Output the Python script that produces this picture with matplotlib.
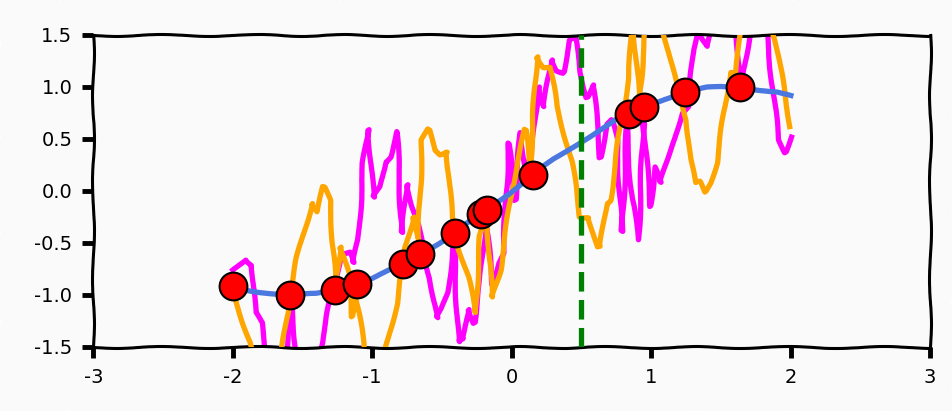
import matplotlib
matplotlib.use("Agg")
import matplotlib.pyplot as plt

# smooth curve
curve_x = [-2.0, -1.9, -1.8, -1.7, -1.6, -1.5, -1.4, -1.3, -1.2, -1.1, -1.0,
           -0.9, -0.8, -0.7, -0.6, -0.5, -0.4, -0.3, -0.2, -0.1, 0.0,
           0.1, 0.2, 0.3, 0.4, 0.5, 0.6, 0.7, 0.8, 0.9, 1.0,
           1.1, 1.2, 1.3, 1.4, 1.5, 1.6, 1.7, 1.8, 1.9, 2.0]
curve_y = [-0.91, -0.95, -0.97, -0.99, -1.0, -1.0, -0.99, -0.96, -0.93, -0.89, -0.84,
           -0.78, -0.72, -0.64, -0.56, -0.48, -0.39, -0.30, -0.20, -0.10, 0.0,
           0.10, 0.20, 0.30, 0.39, 0.48, 0.56, 0.64, 0.72, 0.78, 0.84,
           0.89, 0.93, 0.96, 0.99, 1.0, 1.0, 0.99, 0.97, 0.95, 0.91]

# sample points sitting on the curve
pts_x = [-2.0, -1.59, -1.27, -1.11, -0.78, -0.66, -0.41, -0.22, -0.18, 0.15,
         0.84, 0.95, 1.24, 1.64]
pts_y = [-0.91, -1.0, -0.95, -0.90, -0.70, -0.61, -0.40, -0.22, -0.18, 0.15,
         0.74, 0.81, 0.95, 1.0]

# noisy series 1 (magenta)
mag_x = [-2.0, -1.91, -1.862, -1.839, -1.791, -1.753, -1.695, -1.638, -1.581, -1.538,
         -1.48, -1.416, -1.361, -1.301, -1.229, -1.194, -1.158, -1.136, -1.1, -1.065,
         -1.027, -0.991, -0.943, -0.907, -0.871, -0.823, -0.787, -0.749, -0.713, -0.67,
         -0.62, -0.584, -0.536, -0.498, -0.455, -0.417, -0.381, -0.346, -0.31, -0.269,
         -0.226, -0.183, -0.14, -0.097, -0.059, -0.023, 0.025, 0.061, 0.104, 0.147,
         0.192, 0.228, 0.288, 0.324, 0.369, 0.419, 0.455, 0.491, 0.539, 0.586,
         0.634, 0.685, 0.718, 0.754, 0.79, 0.826, 0.862, 0.909, 0.945, 0.993,
         1.029, 1.065, 1.122, 1.172, 1.22, 1.267, 1.303, 1.33, 1.373, 1.401,
         1.437, 1.495, 1.552, 1.614, 1.638, 1.674, 1.724, 1.781, 1.829, 1.913,
         1.961, 2.0]
mag_y = [-0.76, -0.66, -0.71, -1.17, -1.27, -1.62, -2.01, -1.82, -1.08, -1.62,
         -1.91, -1.72, -1.46, -1.05, -0.64, -0.60, -0.59, -0.69, -0.47, 0.27,
         0.59, -0.06, 0.04, 0.28, 0.33, 0.57, -0.40, 0.06, -0.14, -0.33,
         -0.69, -0.84, -1.22, -1.13, -0.98, -0.42, -1.45, -1.43, -1.14, -1.27,
         -0.86, -0.28, -0.90, -0.69, -0.60, 0.46, -0.09, 0.56, 0.20, 0.39,
         1.0, 0.81, 1.26, 1.16, 1.14, 1.45, 1.47, 1.14, 0.90, 1.02,
         0.32, 0.64, 0.68, 0.49, -0.39, 0.59, -0.06, -0.47, 0.65, -0.15,
         0.23, 0.08, 0.30, 0.54, 0.75, 0.81, 1.36, 1.55, 1.45, 1.39,
         1.55, 1.69, 1.64, 1.52, 0.97, 1.26, 1.64, 1.69, 1.52, 0.49,
         0.37, 0.52]

# noisy series 2 (orange)
org_x = [-1.98, -1.875, -1.832, -1.774, -1.717, -1.667, -1.638, -1.576, -1.538, -1.487,
         -1.432, -1.396, -1.349, -1.301, -1.277, -1.265, -1.229, -1.201, -1.17, -1.146,
         -1.122, -1.062, -1.014, -0.957, -0.895, -0.823, -0.763, -0.704, -0.668, -0.644,
         -0.596, -0.548, -0.513, -0.465, -0.429, -0.381, -0.31, -0.262, -0.226, -0.178,
         -0.142, -0.082, -0.047, 0.001, 0.037, 0.097, 0.133, 0.181, 0.228, 0.276,
         0.324, 0.384, 0.432, 0.491, 0.551, 0.611, 0.634, 0.682, 0.706, 0.742,
         0.778, 0.837, 0.871, 0.914, 0.964, 1.029, 1.086, 1.136, 1.184, 1.256,
         1.28, 1.315, 1.351, 1.387, 1.423, 1.471, 1.518, 1.566, 1.602, 1.65,
         1.695, 1.746, 1.796, 1.853, 1.889, 2.0]
org_y = [-1.05, -1.46, -1.82, -2.2, -2.01, -1.72, -1.46, -0.89, -0.64, -0.38,
         -0.12, -0.20, 0.04, -0.09, -0.60, -0.90, -0.54, -0.64, -0.79, -1.21,
         -0.98, -1.46, -1.91, -1.82, -1.46, -1.08, -0.54, -0.25, -0.47, 0.49,
         0.59, 0.39, 0.35, 0.38, -0.25, -0.54, -0.83, -1.17, -0.44, -0.21,
         -1.02, -0.76, -0.44, 0.01, 0.27, 0.59, 0.27, 1.29, 1.19, 1.19,
         0.81, 0.52, 0.27, -0.25, -0.25, -0.54, -0.54, -0.12, -0.09, 0.23,
         0.62, 1.07, 1.64, 0.88, 1.64, 1.84, 1.55, 1.26, 1.0, 0.68,
         0.30, 0.08, 0.09, -0.01, 0.08, 0.27, 0.71, 1.14, 1.14, 1.55,
         1.84, 2.03, 1.84, 1.64, 1.45, 0.62]

marker_x = 0.5

x_ticks = [-3, -2, -1, 0, 1, 2, 3]
y_ticks = [-1.5, -1.0, -0.5, 0.0, 0.5, 1.0, 1.5]
y_labels = ["-1.5", "-1.0", "-0.5", "0.0", "0.5", "1.0", "1.5"]


def main():
    plt.xkcd()
    plt.rcParams['font.family'] = ['DejaVu Sans']
    plt.rcParams['axes.unicode_minus'] = False
    plt.rcParams['path.effects'] = []

    fig = plt.figure(figsize=(9.52, 4.11), dpi=100, facecolor='#fafafa')
    ax = fig.add_axes([0.098, 0.156, 0.879, 0.759], facecolor='#fafafa')

    ax.plot(mag_x, mag_y, color='magenta', lw=3.8, zorder=2)
    ax.plot(org_x, org_y, color='orange', lw=3.8, zorder=3)
    ax.plot(curve_x, curve_y, color='#4a78e0', lw=3.8, zorder=4)
    ax.plot(pts_x, pts_y, 'o', color='red', markersize=20,
            markeredgecolor='black', markeredgewidth=1.5, zorder=5)
    vline = ax.axvline(marker_x, color='green', lw=3.8, ls='--', zorder=6)
    vline.set_sketch_params(scale=None)

    ax.set_xlim(-3, 3)
    ax.set_ylim(-1.5, 1.5)
    ax.set_xticks(x_ticks)
    ax.set_yticks(y_ticks)
    ax.set_yticklabels(y_labels)
    ax.tick_params(labelsize=14, width=3.5, length=8, pad=7,
                   top=False, right=False)
    for spine in ax.spines.values():
        spine.set_linewidth(2.2)

    fig.savefig('out.png', dpi=100, facecolor=fig.get_facecolor())


if __name__ == "__main__":
    main()
